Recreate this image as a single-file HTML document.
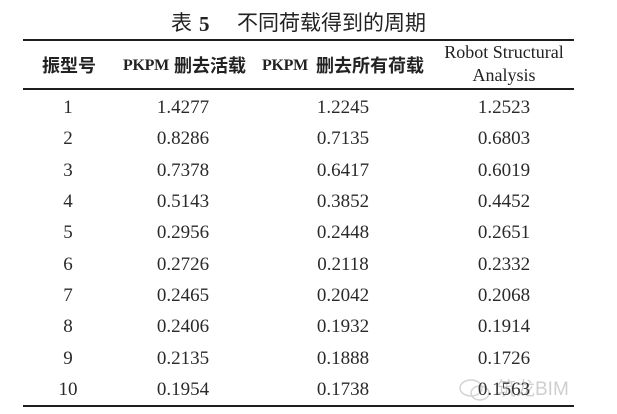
<!DOCTYPE html>
<html>
<head>
<meta charset="utf-8">
<style>
  html,body{margin:0;padding:0;background:#fff;}
  #c{position:relative;width:617px;height:414px;overflow:hidden;background:#fff;color:#222;}
  .a{position:absolute;white-space:nowrap;}
  .cjk{font-family:"Liberation Sans","Noto Sans CJK SC",sans-serif;}
  .ser{font-family:"Liberation Serif","Noto Serif CJK SC",serif;}
  .rule{position:absolute;left:23px;width:551px;height:2px;background:#1e1e1e;}
  .cell{position:absolute;width:140px;text-align:center;font-family:"Liberation Serif",serif;font-size:19px;line-height:20px;color:#2a2a2a;}
</style>
</head>
<body>
<div id="c">
  <!-- title -->
  <div class="a cjk" style="left:171px;top:11px;font-size:21px;line-height:26px;">表</div>
  <div class="a ser" style="left:199px;top:11px;font-size:21px;line-height:26px;font-weight:bold;">5</div>
  <div class="a cjk" style="left:237px;top:11px;font-size:21px;line-height:26px;">不同荷载得到的周期</div>

  <div class="rule" style="top:39px;"></div>

  <!-- header -->
  <div class="a cjk" style="left:42px;top:54px;font-size:18px;line-height:24px;font-weight:bold;">振型号</div>
  <div class="a ser" style="left:123px;top:55px;font-size:16px;line-height:22px;font-weight:bold;letter-spacing:-0.3px;">PKPM</div>
  <div class="a cjk" style="left:174px;top:54px;font-size:18px;line-height:24px;font-weight:bold;">删去活载</div>
  <div class="a ser" style="left:262px;top:55px;font-size:16px;line-height:22px;font-weight:bold;letter-spacing:-0.3px;">PKPM</div>
  <div class="a cjk" style="left:316px;top:54px;font-size:18px;line-height:24px;font-weight:bold;">删去所有荷载</div>
  <div class="a ser" style="left:434px;top:41px;width:140px;text-align:center;font-size:18px;line-height:22px;">Robot Structural</div>
  <div class="a ser" style="left:434px;top:64px;width:140px;text-align:center;font-size:18px;line-height:22px;">Analysis</div>

  <div class="rule" style="top:88px;"></div>

  <!-- rows -->
  <div class="cell" style="left:-2px;top:98px;">1</div>
  <div class="cell" style="left:113px;top:98px;">1.4277</div>
  <div class="cell" style="left:273px;top:98px;">1.2245</div>
  <div class="cell" style="left:434px;top:98px;">1.2523</div>

  <div class="cell" style="left:-2px;top:129px;">2</div>
  <div class="cell" style="left:113px;top:129px;">0.8286</div>
  <div class="cell" style="left:273px;top:129px;">0.7135</div>
  <div class="cell" style="left:434px;top:129px;">0.6803</div>

  <div class="cell" style="left:-2px;top:161px;">3</div>
  <div class="cell" style="left:113px;top:161px;">0.7378</div>
  <div class="cell" style="left:273px;top:161px;">0.6417</div>
  <div class="cell" style="left:434px;top:161px;">0.6019</div>

  <div class="cell" style="left:-2px;top:192px;">4</div>
  <div class="cell" style="left:113px;top:192px;">0.5143</div>
  <div class="cell" style="left:273px;top:192px;">0.3852</div>
  <div class="cell" style="left:434px;top:192px;">0.4452</div>

  <div class="cell" style="left:-2px;top:223px;">5</div>
  <div class="cell" style="left:113px;top:223px;">0.2956</div>
  <div class="cell" style="left:273px;top:223px;">0.2448</div>
  <div class="cell" style="left:434px;top:223px;">0.2651</div>

  <div class="cell" style="left:-2px;top:255px;">6</div>
  <div class="cell" style="left:113px;top:255px;">0.2726</div>
  <div class="cell" style="left:273px;top:255px;">0.2118</div>
  <div class="cell" style="left:434px;top:255px;">0.2332</div>

  <div class="cell" style="left:-2px;top:286px;">7</div>
  <div class="cell" style="left:113px;top:286px;">0.2465</div>
  <div class="cell" style="left:273px;top:286px;">0.2042</div>
  <div class="cell" style="left:434px;top:286px;">0.2068</div>

  <div class="cell" style="left:-2px;top:317px;">8</div>
  <div class="cell" style="left:113px;top:317px;">0.2406</div>
  <div class="cell" style="left:273px;top:317px;">0.1932</div>
  <div class="cell" style="left:434px;top:317px;">0.1914</div>

  <div class="cell" style="left:-2px;top:349px;">9</div>
  <div class="cell" style="left:113px;top:349px;">0.2135</div>
  <div class="cell" style="left:273px;top:349px;">0.1888</div>
  <div class="cell" style="left:434px;top:349px;">0.1726</div>

  <div class="cell" style="left:-2px;top:380px;">10</div>
  <div class="cell" style="left:113px;top:380px;">0.1954</div>
  <div class="cell" style="left:273px;top:380px;">0.1738</div>

  <!-- watermark -->
  <svg class="a" style="left:458px;top:378px;" width="34" height="24" viewBox="0 0 34 24">
    <ellipse cx="13" cy="10" rx="11" ry="8" fill="none" stroke="#d4d4d4" stroke-width="1.5"/>
    <ellipse cx="22" cy="15" rx="9" ry="7" fill="none" stroke="#d4d4d4" stroke-width="1.5"/>
  </svg>
  <div class="a cjk" style="left:497px;top:378px;font-size:19px;line-height:24px;color:#cfcfcf;">筑龙BIM</div>
  <div class="cell" style="left:434px;top:380px;color:#333;">0.1563</div>

  <div class="rule" style="top:405px;"></div>
</div>
</body>
</html>
